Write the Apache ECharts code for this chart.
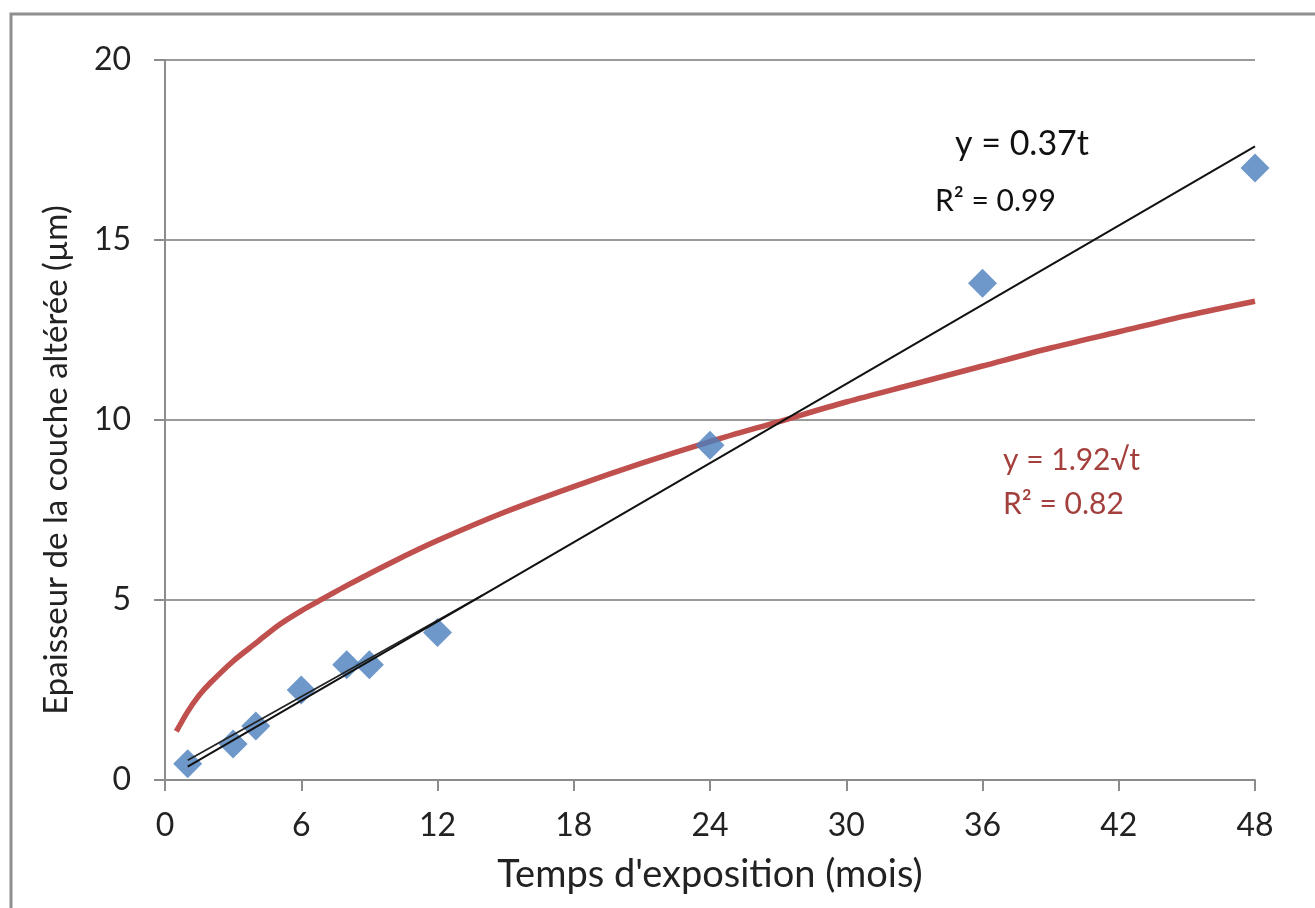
<!DOCTYPE html>
<html>
<head>
<meta charset="utf-8">
<script src="https://cdn.jsdelivr.net/npm/echarts@6/dist/echarts.min.js"></script>
<style>
html,body{margin:0;padding:0;background:#fff;}
#chart{width:1315px;height:908px;}
</style>
</head>
<body>
<div id="chart"></div>
<script>
// Measured points (months, µm)
const months = [1, 3, 4, 6, 8, 9, 12, 24, 36, 48];
const thickness = [0.45, 1.0, 1.5, 2.5, 3.2, 3.2, 4.1, 9.3, 13.8, 17.0];

// Square-root fit curve (t, y)
const sqrtFitT = [0.5, 1, 1.5, 2, 3, 4, 5, 6, 7, 8, 10, 12, 15, 18, 21, 24, 27, 30, 33, 36, 39, 42, 45, 48];
const sqrtFitY = [1.35, 1.9, 2.35, 2.7, 3.3, 3.8, 4.3, 4.7, 5.05, 5.4, 6.05, 6.65, 7.45, 8.15, 8.8, 9.4, 9.95, 10.5, 11.0, 11.5, 12.0, 12.45, 12.9, 13.3];

// Linear fit lines
const linFitT = [1, 48];
const linFitY = [0.37, 17.6];
const linFit2T = [1, 14];
const linFit2Y = [0.55, 5.14];

// Tick settings
const xTicks = {min: 0, max: 48, interval: 6};
const yTicks = {min: 0, max: 20, interval: 5};

const zip = (a, b) => a.map((v, i) => [v, b[i]]);

const FONT = 'Lato';
const chart = echarts.init(document.getElementById('chart'), null, {renderer: 'canvas'});
chart.setOption({
  animation: false,
  backgroundColor: '#fff',
  grid: {left: 165, right: 60, top: 60, bottom: 128, containLabel: false},
  xAxis: {
    type: 'value', min: xTicks.min, max: xTicks.max, interval: xTicks.interval,
    name: "Temps d'exposition (mois)", nameLocation: 'middle', nameGap: 76,
    nameTextStyle: {fontFamily: FONT, fontSize: 38, color: '#222'},
    axisLine: {show: true, onZero: false, lineStyle: {color: '#8c8c8c', width: 2}},
    axisTick: {show: true, length: 11, lineStyle: {color: '#8c8c8c', width: 2}},
    axisLabel: {fontFamily: FONT, fontSize: 32, color: '#222', margin: 30},
    splitLine: {show: false}
  },
  yAxis: {
    type: 'value', min: yTicks.min, max: yTicks.max, interval: yTicks.interval,
    axisLine: {show: true, lineStyle: {color: '#8c8c8c', width: 2}},
    axisTick: {show: true, length: 11, lineStyle: {color: '#8c8c8c', width: 2}},
    axisLabel: {fontFamily: FONT, fontSize: 32, color: '#222', margin: 34},
    splitLine: {show: true, lineStyle: {color: '#9a9a9a', width: 2}}
  },
  series: [
    {
      type: 'line', data: zip(sqrtFitT, sqrtFitY), showSymbol: false, smooth: 0.3,
      lineStyle: {color: '#c0504d', width: 5.5}, z: 2
    },
    {
      type: 'scatter', data: zip(months, thickness), symbol: 'diamond', symbolSize: 29,
      itemStyle: {color: '#4a7ebd'}, z: 3
    },
    {
      type: 'line', data: zip(linFit2T, linFit2Y), showSymbol: false,
      lineStyle: {color: '#222', width: 1.8}, z: 4
    },
    {
      type: 'line', data: zip(linFitT, linFitY), showSymbol: false,
      lineStyle: {color: '#111', width: 2}, z: 5
    }
  ],
  graphic: [
    {type: 'rect', shape: {x: 11, y: 14, width: 1330, height: 930}, style: {fill: 'none', stroke: '#8f8f8f', lineWidth: 3}, silent: true, z: -1},
    {type: 'text', x: 56, y: 460, rotation: Math.PI / 2,
      style: {text: 'Epaisseur de la couche altérée (µm)', fontFamily: FONT, fontSize: 33, fill: '#222', align: 'center', verticalAlign: 'middle'}},
    {type: 'text', left: 955, top: 127, style: {text: 'y = 0.37t', fontFamily: FONT, fontSize: 34, fill: '#111'}},
    {type: 'text', left: 935, top: 186, style: {text: 'R² = 0.99', fontFamily: FONT, fontSize: 30, fill: '#111'}},
    {type: 'text', left: 1003, top: 445, style: {text: 'y = 1.92√t', fontFamily: FONT, fontSize: 30, fill: '#a3403d'}},
    {type: 'text', left: 1003, top: 489, style: {text: 'R² = 0.82', fontFamily: FONT, fontSize: 30, fill: '#a3403d'}}
  ]
});
</script>
</body>
</html>
